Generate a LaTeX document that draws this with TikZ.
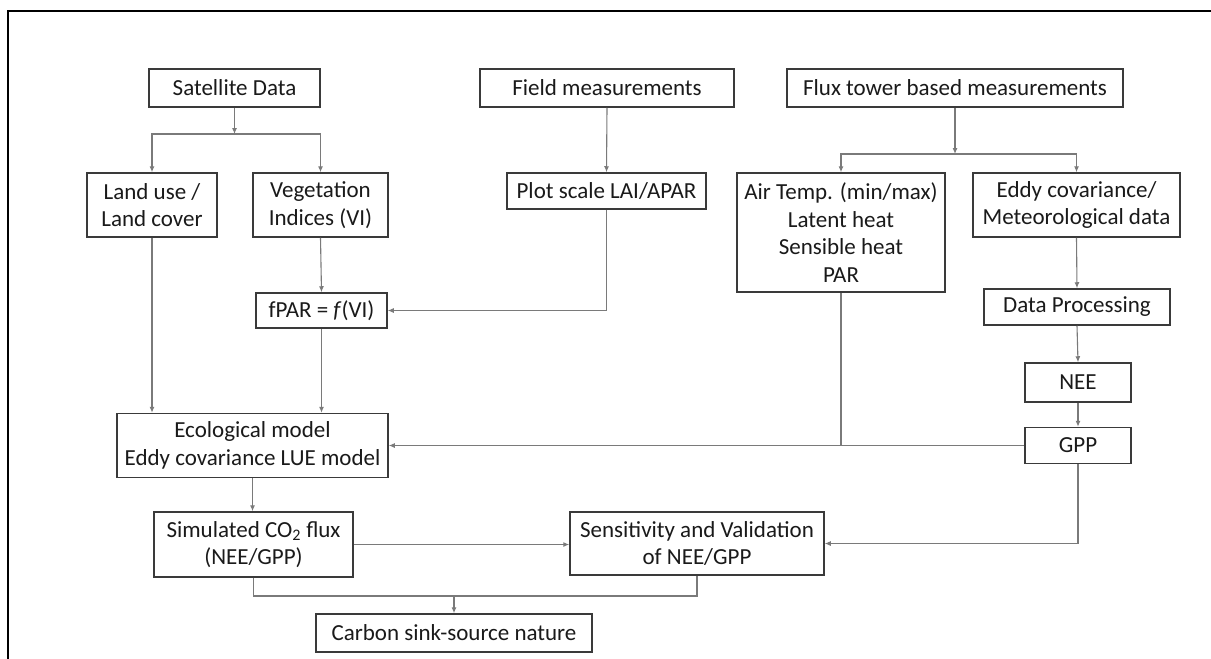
\documentclass[tikz,border=0pt]{standalone}
\usepackage{fontspec}
\setmainfont{Carlito}
\usetikzlibrary{arrows.meta}
\definecolor{boxc}{HTML}{3A3A3A}
\definecolor{linec}{HTML}{7A7A7A}
\definecolor{txtc}{HTML}{1A1A1A}
\begin{document}
\begin{tikzpicture}[x=1pt,y=-1pt,
  box/.style={draw=boxc, line width=1.5pt, inner sep=0pt, align=center,
    font=\fontsize{23}{27.5}\selectfont, text=txtc},
  arr/.style={draw=linec, line width=1.1pt, -{Latex[length=6pt,width=5pt]}},
  ln/.style={draw=linec, line width=1.1pt}]
\useasboundingbox (0,0) rectangle (1211,659);
\fill[white] (0,0) rectangle (1211,659);
\draw[line width=2pt, black] (8,660) -- (8,11) -- (1212,11);

% top row
\node[box, minimum width=171pt, minimum height=38pt] (sat) at (234.5,88) {Satellite Data};
\node[box, minimum width=254pt, minimum height=38pt] (field) at (607,88) {Field measurements};
\node[box, minimum width=336pt, minimum height=38pt] (flux) at (955,88) {Flux tower based measurements};

% second row
\node[box, minimum width=130pt, minimum height=64pt] (land) at (152,205) {Land use /\\Land cover};
\node[box, minimum width=135pt, minimum height=64pt] (veg) at (320.5,205) {Vegetation\\Indices (VI)};
\node[box, minimum width=199pt, minimum height=36pt] (plot) at (606.5,191) {Plot scale LAI/APAR};
\node[box, minimum width=208pt, minimum height=119pt] (air) at (841,232.5) {Air Temp. (min/max)\\Latent heat\\Sensible heat\\PAR};
\node[box, minimum width=207pt, minimum height=64pt] (eddy) at (1076.5,205) {Eddy covariance/\\Meteorological data};

% third row
\node[box, minimum width=131pt, minimum height=35pt] (fpar) at (321.5,310.5) {fPAR = \textit{f}(VI)};
\node[box, minimum width=186pt, minimum height=36pt] (dp) at (1077,307) {Data Processing};
\node[box, minimum width=106pt, minimum height=39pt] (nee) at (1078,382.5) {NEE};
\node[box, minimum width=106pt, minimum height=36pt] (gpp) at (1078,445.5) {GPP};
\node[box, minimum width=271pt, minimum height=64pt] (eco) at (252.5,445.5) {Ecological model\\Eddy covariance LUE model};

% bottom rows
\node[box, minimum width=199pt, minimum height=65pt] (sim) at (253.5,544.5) {Simulated CO\textsubscript{2} flux\\(NEE/GPP)};
\node[box, minimum width=254pt, minimum height=63pt] (sens) at (697,543.5) {Sensitivity and Validation\\of NEE/GPP};
\node[box, minimum width=276pt, minimum height=38pt] (carbon) at (454,633) {Carbon sink-source nature};

% connectors
\coordinate (j1) at (234.5,134);
\draw[arr] (sat.south) -- (j1);
\draw[arr] (j1) -| (land.north);
\draw[arr] (j1) -| (veg.north);
\draw[arr] (field.south) -- (plot.north);
\draw[arr] (plot.south) |- (fpar.east);
\draw[arr] (veg.south) -- (fpar.north);
\draw[arr] (land.south) -- (land.south |- eco.north);
\draw[arr] (fpar.south) -- (fpar.south |- eco.north);

\coordinate (j2) at (955,154);
\draw[arr] (flux.south) -- (j2);
\draw[arr] (j2) -| (air.north);
\draw[arr] (j2) -| (eddy.north);
\draw[arr] (eddy.south) -- (dp.north);
\draw[arr] (dp.south) -- (nee.north);
\draw[arr] (nee.south) -- (gpp.north);
\draw[arr] (gpp.west) -- (eco.east);
\draw[ln] (air.south) -- (air.south |- eco.east);

\draw[arr] (eco.south) -- (eco.south |- sim.north);
\draw[arr] (sim.east) -- (sim.east -| sens.west);
\draw[arr] (gpp.south) |- (sens.east);

\coordinate (j3) at (454,596);
\draw[ln] (sim.south) -- (sim.south |- j3) -- (sens.south |- j3) -- (sens.south);
\draw[arr] (j3) -- (carbon.north);
\end{tikzpicture}
\end{document}
